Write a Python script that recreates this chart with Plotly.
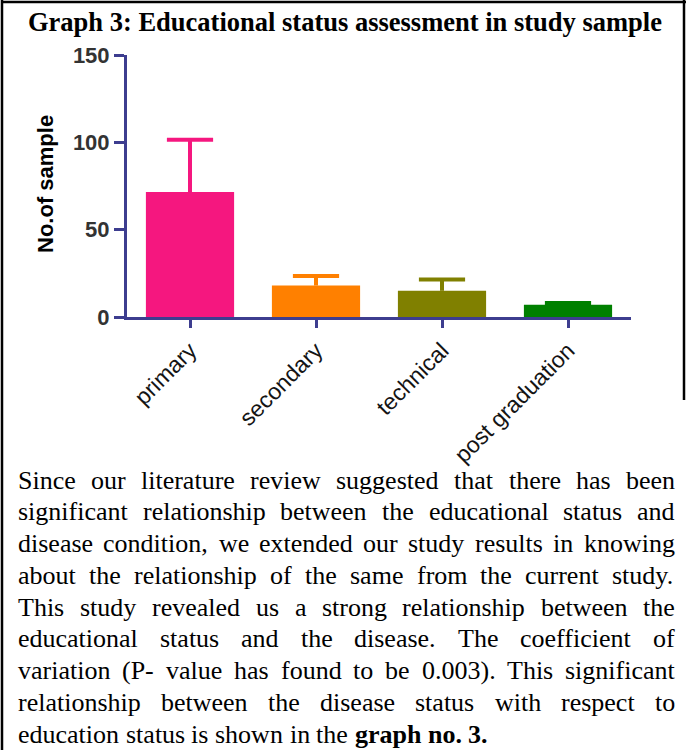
import plotly.graph_objects as go

# ---- data -------------------------------------------------------------
categories = ["primary", "secondary", "technical", "post graduation"]
counts = [71.5, 18, 15, 7]
err_upper = [30, 5.5, 6.5, 1]
bar_colors = ["#F5177F", "#FF8000", "#808000", "#008000"]
y_ticks = [0, 50, 100, 150]

title_text = "Graph 3: Educational status assessment in study sample"
y_title = "No.of sample"

body_lines = [
    "Since our literature review suggested that there has been",
    "significant relationship between the educational status and",
    "disease condition, we extended our study results in knowing",
    "about the relationship of the same from the current study.",
    "This study revealed us a strong relationship between the",
    "educational status and the disease. The coefficient of",
    "variation (P- value has found to be 0.003). This significant",
    "relationship between the disease status with respect to",
]
last_line_regular = "education status is shown in the"
last_line_bold = "graph no. 3."

# ---- page geometry (pixels) ------------------------------------------
W, H = 686, 750
ML, MR, MT, MB = 127, 55, 55, 433
PW, PH = W - ML - MR, H - MT - MB
AXIS = "#3d3d8f"


def px(x):
    return (x - ML) / PW


def py(y):
    return (H - MB - y) / PH


# Times/Liberation Serif advance widths (1/1000 em) for justified text
REG = {" ": 250, ",": 250, ".": 250, "(": 333, ")": 333, "-": 333,
       "S": 556, "T": 611, "P": 556,
       "a": 444, "b": 500, "c": 444, "d": 500, "e": 444, "f": 333, "g": 500,
       "h": 500, "i": 278, "j": 278, "k": 500, "l": 278, "m": 778, "n": 500,
       "o": 500, "p": 500, "q": 500, "r": 333, "s": 389, "t": 278, "u": 500,
       "v": 500, "w": 722, "x": 500, "y": 500, "z": 444}
for d in "0123456789":
    REG[d] = 500
BOLD = {" ": 250, ".": 250, "3": 500, "g": 500, "r": 444, "a": 500,
        "p": 556, "h": 556, "n": 556, "o": 500}


def width(word, fs, table=REG):
    return sum(table.get(c, 500) for c in word) * fs / 1000.0


fig = go.Figure()

# bars
for cat, val, col in zip(categories, counts, bar_colors):
    fig.add_trace(go.Bar(
        x=[cat], y=[val], width=0.7,
        marker=dict(color=col, line=dict(width=0)),
        showlegend=False, hoverinfo="x+y",
    ))

# one-sided (upper) error bars: stem from bar top plus a flat cap
for cat, val, err, col in zip(categories, counts, err_upper, bar_colors):
    fig.add_trace(go.Scatter(
        x=[cat, cat], y=[val, val + err], mode="lines",
        line=dict(color=col, width=4), showlegend=False, hoverinfo="skip",
    ))
    fig.add_trace(go.Scatter(
        x=[cat], y=[val + err], mode="markers",
        marker=dict(symbol="line-ew", size=33, color=col,
                    line=dict(color=col, width=4)),
        showlegend=False, hoverinfo="skip",
    ))

annotations = []
shapes = []

# title
annotations.append(dict(
    text="<b>" + title_text + "</b>", x=px(345), y=py(22),
    xref="paper", yref="paper", xanchor="center", yanchor="middle",
    showarrow=False, font=dict(family="Liberation Serif", size=26.5, color="black"),
))

# y-axis title
annotations.append(dict(
    text="<b>" + y_title + "</b>", x=px(45), y=py(184), textangle=-90,
    xref="paper", yref="paper", xanchor="center", yanchor="middle",
    showarrow=False, font=dict(family="Liberation Sans", size=22, color="black"),
))

# justified paragraph, word by word
FS = 26
LEFT, RIGHT = 17, 674
TOP_LINE, LINE_GAP = 480, 31.8
for i, line in enumerate(body_lines):
    words = line.split(" ")
    ws = [width(w, FS) for w in words]
    gap = (RIGHT - LEFT - sum(ws)) / (len(words) - 1)
    x = LEFT
    yc = TOP_LINE + i * LINE_GAP
    for w, wd in zip(words, ws):
        annotations.append(dict(
            text=w, x=px(x), y=py(yc), xref="paper", yref="paper",
            xanchor="left", yanchor="middle", showarrow=False, borderpad=0,
            font=dict(family="Liberation Serif", size=FS, color="black"),
        ))
        x += wd + gap

# last line: left aligned, plain spacing, bold tail
yc = TOP_LINE + len(body_lines) * LINE_GAP
x = LEFT
space = width(" ", FS)
for w in last_line_regular.split(" "):
    annotations.append(dict(
        text=w, x=px(x), y=py(yc), xref="paper", yref="paper",
        xanchor="left", yanchor="middle", showarrow=False, borderpad=0,
        font=dict(family="Liberation Serif", size=FS, color="black"),
    ))
    x += width(w, FS) + space
for w in last_line_bold.split(" "):
    annotations.append(dict(
        text="<b>" + w + "</b>", x=px(x), y=py(yc), xref="paper", yref="paper",
        xanchor="left", yanchor="middle", showarrow=False, borderpad=0,
        font=dict(family="Liberation Serif", size=FS, color="black"),
    ))
    x += width(w, FS, BOLD) + space

# frame lines
frame = dict(xref="paper", yref="paper", type="line",
             line=dict(color="black", width=2.5))
shapes.append(dict(frame, x0=px(2), x1=px(2), y0=py(0), y1=py(750)))
shapes.append(dict(frame, x0=px(1), x1=px(686), y0=py(2), y1=py(2)))
shapes.append(dict(frame, x0=px(684), x1=px(684), y0=py(0), y1=py(400)))

fig.update_layout(
    width=W, height=H,
    margin=dict(l=ML, r=MR, t=MT, b=MB, autoexpand=False),
    paper_bgcolor="white", plot_bgcolor="white",
    barmode="overlay", bargap=0.3,
    annotations=annotations, shapes=shapes,
    xaxis=dict(
        type="category", range=[-0.5, 3.5], categoryorder="array",
        categoryarray=categories,
        showline=True, linecolor=AXIS, linewidth=3,
        ticks="outside", ticklen=8, tickwidth=3, tickcolor=AXIS,
        tickangle=-45, showgrid=False, zeroline=False,
        tickfont=dict(family="Liberation Sans", size=23, color="#141414"),
    ),
    yaxis=dict(
        range=[0, 150], tickvals=y_ticks,
        showline=True, linecolor=AXIS, linewidth=3,
        ticks="outside", ticklen=10, tickwidth=3, tickcolor=AXIS,
        showgrid=False, zeroline=False,
        tickfont=dict(family="Liberation Sans", size=22, color="#333333", weight="bold"),
    ),
)

fig.write_html("out.html")
